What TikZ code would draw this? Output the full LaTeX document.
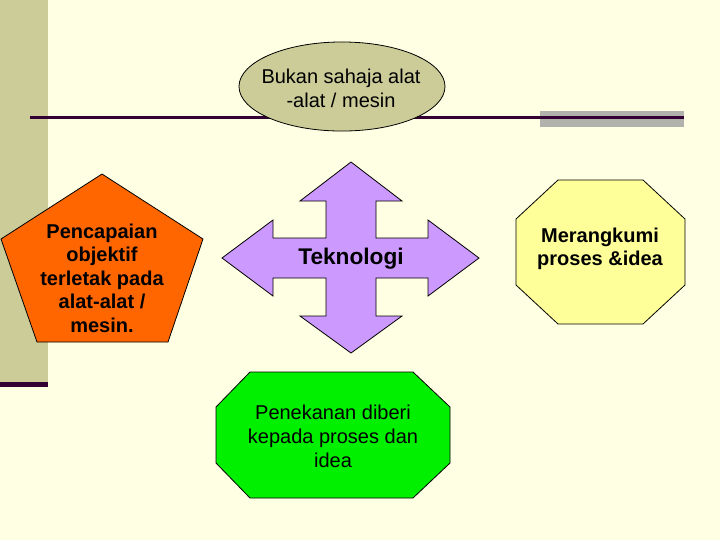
\documentclass[tikz,border=0pt]{standalone}
\usepackage{fontspec}
\setmainfont{Liberation Sans}
\usepackage{tikz}
\usetikzlibrary{calc}
\definecolor{bgYellow}{HTML}{FFFFE3}
\definecolor{bandOlive}{HTML}{CCCC99}
\definecolor{lineDark}{HTML}{330033}
\definecolor{barGray}{HTML}{B2B2AC}
\definecolor{penOrange}{HTML}{FF6600}
\definecolor{crossLilac}{HTML}{CC99FF}
\definecolor{octYellow}{HTML}{FFFF99}
\definecolor{octGreen}{HTML}{00F000}
\begin{document}
\begin{tikzpicture}[x=0.75pt,y=-0.75pt,
    shapeline/.style={draw=black, line width=0.6pt, line join=miter},
    plaintext/.style={align=center, inner sep=0pt, font=\fontsize{15}{18}\selectfont},
    boldtext/.style={plaintext, font=\fontsize{15}{17.6}\selectfont\bfseries}]
        % Slide background
        \fill[bgYellow] (0,0) rectangle (720,540);
        \useasboundingbox (0,0) rectangle (720,540);
        % Olive band on the left
        \fill[bandOlive] (0,0) rectangle (48,382);
        \fill[lineDark] (0,382) rectangle (48,387);
        % Gray bar and rule
        \fill[barGray] (540,110.5) rectangle (684,126.5);
        \fill[lineDark] (30,116) rectangle (684,119.3);
        % Ellipse on the rule
        \coordinate (E) at (342,86.5);
        \draw[shapeline, fill=bandOlive] (E) ellipse [x radius=77.25pt, y radius=33.4pt];
        \node[plaintext] (alat) at (341,88) {Bukan sahaja alat\\-alat / mesin};
        % Pentagon (left)
        \draw[shapeline, fill=penOrange] (102,174) -- (203,239) -- (168,342)
          -- (37,342) -- (1,239) -- cycle;
        \node[boldtext] (capai) at (102,278)
          {Pencapaian\\objektif\\terletak pada\\alat-alat /\\mesin.};
        % Four-way arrow (centre)
        \begin{scope}[shift={(351,258)}]
          \draw[shapeline, fill=crossLilac] (0,-96) -- (51,-57) -- (25,-57) -- (25,-20)
            -- (77,-20) -- (77,-38) -- (128,0) -- (77,38) -- (77,20) -- (25,20)
            -- (25,58) -- (51,58) -- (0,95) -- (-51,58) -- (-25,58) -- (-25,20)
            -- (-78,20) -- (-78,38) -- (-129,0) -- (-78,-38) -- (-78,-20)
            -- (-25,-20) -- (-25,-57) -- (-51,-57) -- cycle;
        \end{scope}
        \node[boldtext, font=\fontsize{17}{20}\selectfont\bfseries] (tekno) at (351,259) {Teknologi};
        % Yellow octagon (right)
        \draw[shapeline, fill=octYellow] (558,180) -- (643,180) -- (685,219) -- (685,285)
          -- (643,324) -- (558,324) -- (516,285) -- (516,219) -- cycle;
        \node[boldtext] (rangkum) at (600,249) {Merangkumi\\proses \&idea};
        % Green octagon (bottom)
        \draw[shapeline, fill=octGreen] (250,372) -- (413,372) -- (450,407) -- (450,463)
          -- (413,498) -- (250,498) -- (216,463) -- (216,407) -- cycle;
        \node[plaintext] (tekan) at (333,436) {Penekanan diberi\\kepada proses dan\\idea};
\end{tikzpicture}
\end{document}
